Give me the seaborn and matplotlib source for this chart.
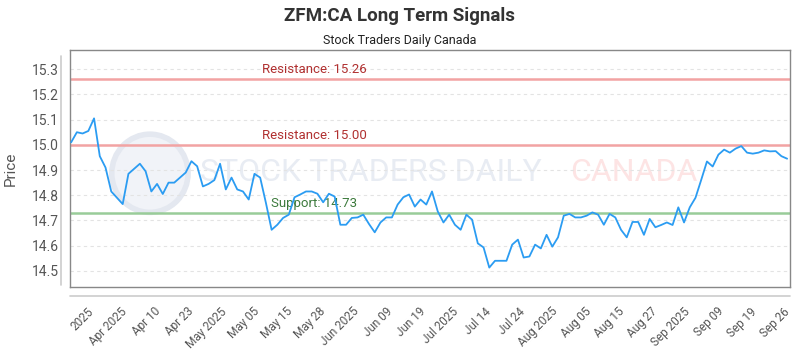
import numpy as np
import pandas as pd
import matplotlib.pyplot as plt
import seaborn as sns
from matplotlib.lines import Line2D
from matplotlib.patches import Ellipse

# --- data ---
prices = [
    15.01, 15.05, 15.045, 15.055, 15.105, 14.955, 14.91, 14.815, 14.79, 14.765,
    14.885, 14.905, 14.925, 14.895, 14.815, 14.845, 14.805, 14.85, 14.85, 14.87,
    14.89, 14.935, 14.915, 14.835, 14.845, 14.86,
    14.925, 14.823, 14.87, 14.823, 14.815, 14.783, 14.885, 14.87, 14.77, 14.663,
    14.683, 14.71, 14.723, 14.792, 14.803, 14.815, 14.815, 14.806, 14.772, 14.806,
    14.795, 14.683, 14.683, 14.71, 14.712,
    14.723, 14.686, 14.653, 14.692, 14.712, 14.712, 14.763, 14.792, 14.803, 14.755,
    14.783, 14.763, 14.815, 14.736, 14.692, 14.723, 14.683, 14.663, 14.723, 14.703,
    14.609, 14.593, 14.513, 14.54, 14.54,
    14.54, 14.604, 14.624, 14.553, 14.557, 14.604, 14.589, 14.643, 14.596, 14.633,
    14.719, 14.726, 14.712, 14.712, 14.719, 14.732, 14.723, 14.683, 14.726, 14.712,
    14.663, 14.633, 14.694, 14.694, 14.643,
    14.706, 14.673, 14.682, 14.692, 14.682, 14.752, 14.692, 14.752, 14.79, 14.861,
    14.934, 14.914, 14.961, 14.981, 14.969, 14.985, 14.995, 14.969, 14.965, 14.969,
    14.978, 14.974, 14.975, 14.955, 14.945,
]
tick_labels = [
    "2025", "Apr 2025", "Apr 10", "Apr 23", "May 2025", "May 05", "May 15",
    "May 28", "Jun 2025", "Jun 09", "Jun 19", "Jul 2025", "Jul 14", "Jul 24",
    "Aug 2025", "Aug 05", "Aug 15", "Aug 27", "Sep 2025", "Sep 09", "Sep 19",
    "Sep 26",
]
resistance_levels = [15.26, 15.00]
support_levels = [14.73]
y_ticks = [14.5, 14.6, 14.7, 14.8, 14.9, 15.0, 15.1, 15.2, 15.3]

TITLE = "ZFM:CA Long Term Signals"
SUBTITLE = "Stock Traders Daily Canada"

df = pd.DataFrame({"idx": np.arange(len(prices)), "price": prices})

sns.set_theme(style="white")
plt.rcParams['font.family'] = ['Roboto', 'DejaVu Sans']

fig = plt.figure(figsize=(8, 3.5), dpi=100)
ax = fig.add_axes([0.0875, 0.18, 0.9, 0.677])

# watermark (logo circle + text)
ax.add_patch(Ellipse((0.111, 0.48), 0.106, 0.33, transform=ax.transAxes,
                     facecolor='#f1f3f8', edgecolor='#e4e8f0', lw=4, zorder=0))
ax.text(0.18, 0.485, "STOCK TRADERS DAILY", transform=ax.transAxes,
        fontsize=23, color='#e8ecf3', va='center', ha='left', zorder=0)
ax.text(0.694, 0.485, "CANADA", transform=ax.transAxes,
        fontsize=23, color='#fde4e4', va='center', ha='left', zorder=0)

for yv in y_ticks:
    ax.axhline(yv, color='#e3e3e3', lw=0.8, ls=(0, (3, 3)), zorder=1)

for lvl in resistance_levels:
    ax.axhline(lvl, color='#f2a3a3', lw=1.8, zorder=2)
    ax.text(33.3, lvl + 0.012, f"Resistance: {lvl:.2f}", color='#b03030',
            fontsize=9.5, va='bottom', ha='left', zorder=3)
for lvl in support_levels:
    ax.axhline(lvl, color='#99cc99', lw=1.8, zorder=2)
    ax.text(34.9, lvl + 0.012, f"Support: {lvl:.2f}", color='#3c7a3c',
            fontsize=9.5, va='bottom', ha='left', zorder=3)

sns.lineplot(data=df, x='idx', y='price', ax=ax, color='#2b9cf2',
             linewidth=1.3, zorder=4)

ax.set_xlim(-0.2, len(prices) - 0.5)
ax.set_ylim(14.436, 15.376)
ax.set_yticks(y_ticks)
ax.set_yticklabels([f"{v:.1f}" for v in y_ticks], color='#555555', fontsize=10)
ax.set_xticks(np.linspace(2.8, 124.3, len(tick_labels)))
ax.set_xticklabels(tick_labels, rotation=45, ha='right', rotation_mode='anchor',
                   color='#555555', fontsize=8.5)
ax.tick_params(axis='y', length=0, pad=8)
ax.tick_params(axis='x', length=0, pad=13)
ax.set_xlabel("")
ax.set_ylabel("Price", color='#555555', fontsize=11, labelpad=10)

for s in ax.spines.values():
    s.set_color('#888888')
    s.set_linewidth(1.0)

# offset axis lines
fig.add_artist(Line2D([0.076, 0.076], [0.185, 0.84], color='#cccccc', lw=1.2))
fig.add_artist(Line2D([0.0875, 0.9875], [0.155, 0.155], color='#cccccc', lw=1.2))

fig.text(0.5, 0.955, TITLE, ha='center', va='center', fontsize=13.5,
         fontweight='bold', color='#333333')
fig.text(0.5, 0.885, SUBTITLE, ha='center', va='center', fontsize=9,
         color='#222222')

fig.savefig("out.png", dpi=100)
